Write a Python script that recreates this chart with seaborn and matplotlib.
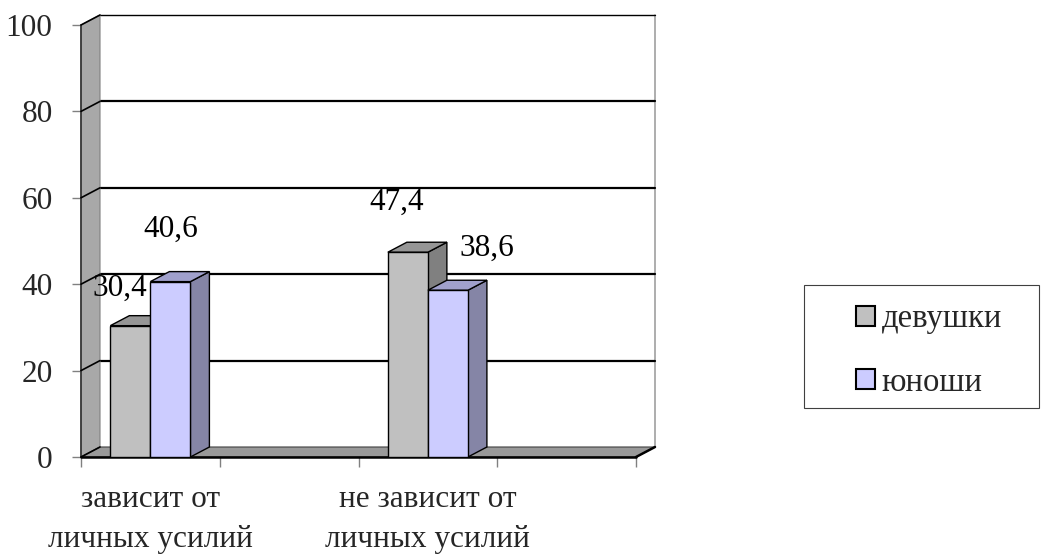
import matplotlib
matplotlib.use("Agg")
import matplotlib.pyplot as plt
import seaborn as sns
import pandas as pd
import numpy as np
from matplotlib.patches import Polygon, Rectangle, Patch

# ---------------- data ----------------
slots = ["зависит от\nличных усилий", "", "не зависит от\nличных усилий", " "]
categories = ["зависит от\nличных усилий", "не зависит от\nличных усилий"]
series = ["девушки", "юноши"]
devushki = [30.4, 47.4]
yunoshi = [40.6, 38.6]
yticks = [0, 20, 40, 60, 80, 100]
value_text = {"девушки": ["30,4", "47,4"], "юноши": ["40,6", "38,6"]}

# ---------------- style ----------------
front_colors = ["#c0c0c0", "#ccccff"]
top_colors = ["#969696", "#a0a0cc"]
side_colors = ["#808080", "#8585a6"]
label_offsets = {"девушки": [(-11, 37), (-11, 50)], "юноши": [(0, 52), (39, 42)]}
DEPTH_PX = (19, 10)
FS = 22.5
LFS = 23.5

sns.set_theme(style="white")
plt.rcParams["font.family"] = ["Liberation Serif", "DejaVu Serif"]

df = pd.DataFrame({
    "category": categories * 2,
    "group": [series[0]] * 2 + [series[1]] * 2,
    "value": devushki + yunoshi,
})

W, H = 1043, 555
fig = plt.figure(figsize=(W / 100, H / 100), dpi=100)
fig.patch.set_facecolor("white")
ax = fig.add_axes([81 / W, (H - 457) / H, (636 - 81) / W, (457 - 25) / H])
ax.set_facecolor("none")

sns.barplot(data=df, x="category", y="value", hue="group", order=slots,
            hue_order=series, palette=front_colors, saturation=1,
            width=0.577, edgecolor="black", linewidth=1.0, legend=False, ax=ax)

ax.set_xlim(-0.5, 3.5)
ax.set_ylim(0, 100)
for s in ax.spines.values():
    s.set_visible(False)

# depth in data units
p0 = ax.transData.transform((0, 0))
p1 = ax.transData.transform((1, 1))
DX = DEPTH_PX[0] / (p1[0] - p0[0])
DY = DEPTH_PX[1] / (p1[1] - p0[1])
x0, x1 = ax.get_xlim()

# back wall
ax.add_patch(Polygon([(x0 + DX, DY), (x1 + DX, DY), (x1 + DX, 100 + DY), (x0 + DX, 100 + DY)],
                     closed=True, facecolor="white", edgecolor="none", zorder=0, clip_on=False))
ax.plot([x1 + DX, x1 + DX], [DY, 100 + DY], color="#a0a0a0", lw=1.2, zorder=0.5, clip_on=False)
for v in yticks[1:]:
    lw = 1.6 if v < 100 else 1.0
    ax.plot([x0 + DX, x1 + DX], [v + DY, v + DY], color="black", lw=lw, zorder=0.6, clip_on=False)

# left wall
ax.add_patch(Polygon([(x0, 0), (x0 + DX, DY), (x0 + DX, 100 + DY), (x0, 100)],
                     closed=True, facecolor="#a8a8a8", edgecolor="#808080", lw=0.8,
                     zorder=1, clip_on=False))
ax.plot([x0, x0], [0, 100], color="#303030", lw=1.2, zorder=1.2, clip_on=False)
for v in yticks:
    ax.plot([x0, x0 + DX], [v, v + DY], color="black", lw=1.2, zorder=1.2, clip_on=False)

# floor
ax.add_patch(Polygon([(x0, 0), (x1, 0), (x1 + DX, DY), (x0 + DX, DY)],
                     closed=True, facecolor="#999999", edgecolor="#404040", lw=0.8,
                     zorder=1, clip_on=False))
ax.plot([x0, x1], [0, 0], color="black", lw=1.8, zorder=1.3, clip_on=False)
ax.plot([x1, x1 + DX], [0, DY], color="black", lw=1.8, zorder=1.3, clip_on=False)

# 3D faces for bars + value labels
for k, cont in enumerate(ax.containers):
    grp = series[k]
    vals_iter = iter(range(len(categories)))
    for patch in cont.patches:
        h = patch.get_height()
        if h is None or np.isnan(h):
            continue
        i = next(vals_iter)
        bx, bw = patch.get_x(), patch.get_width()
        patch.set_zorder(3 + 2 * k + 1)
        ax.add_patch(Polygon([(bx + bw, 0), (bx + bw + DX, DY), (bx + bw + DX, h + DY), (bx + bw, h)],
                             closed=True, facecolor=side_colors[k], edgecolor="black", lw=1.0,
                             zorder=3 + 2 * k, clip_on=False))
        ax.add_patch(Polygon([(bx, h), (bx + bw, h), (bx + bw + DX, h + DY), (bx + DX, h + DY)],
                             closed=True, facecolor=top_colors[k], edgecolor="black", lw=1.0,
                             zorder=3 + 2 * k, clip_on=False))
        ox, oy = label_offsets[grp][i]
        ax.annotate(value_text[grp][i], xy=(bx + bw / 2, h), xytext=(ox, oy),
                    textcoords="offset pixels", ha="center", va="center",
                    fontsize=FS, color="black", zorder=10)

# ticks
ax.set_yticks(yticks)
ax.set_yticklabels([str(v) for v in yticks], fontsize=FS)
ax.tick_params(axis="y", length=6.5, width=1, color="#808080", pad=14, left=True)
ax.set_xticks([0, 2])
ax.set_xticklabels([categories[0], categories[1]], fontsize=FS, linespacing=1.5)
ax.tick_params(axis="x", which="major", length=0, pad=20)
ax.set_xticks([-0.5, 0.5, 1.5, 2.5, 3.5], minor=True)
ax.tick_params(axis="x", which="minor", length=7, width=1, color="#808080", bottom=True)
ax.set_xlabel("")
ax.set_ylabel("")

# legend
fig.add_artist(Rectangle((804 / W, (H - 408) / H), (1039 - 804) / W, (408 - 285) / H,
                         transform=fig.transFigure, facecolor="white", edgecolor="#404040",
                         lw=0.8, zorder=0))
handles = [Patch(facecolor=front_colors[k], edgecolor="black", lw=1.5) for k in range(2)]
fig.legend(handles, series, loc="upper left", bbox_to_anchor=(856 / W, 1 - 304 / H),
           frameon=False, fontsize=LFS, handlelength=0.58, handleheight=0.58,
           handletextpad=0.2, labelspacing=1.0, borderpad=0, borderaxespad=0)

fig.savefig("out.png", dpi=100, facecolor="white")
